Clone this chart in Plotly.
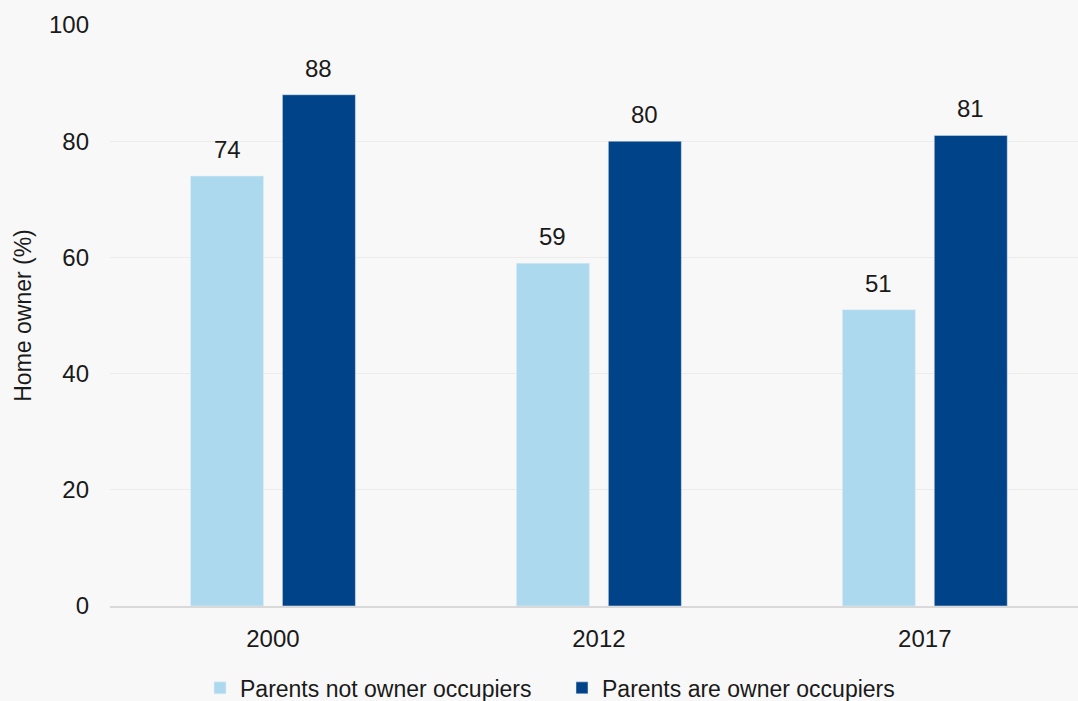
import plotly.graph_objects as go

years = ["2000", "2012", "2017"]
not_owner = [74, 59, 51]
owner = [88, 80, 81]
series_names = ["Parents not owner occupiers", "Parents are owner occupiers"]
y_ticks = [0, 20, 40, 60, 80, 100]

LIGHT = "#add9ef"
DARK = "#004388"
BG = "#f8f8f8"
FONT = "Liberation Sans"
TXT = "#1a1a1a"

BAR_W = 0.224
OFFSETS = [-0.253, 0.029]

fig = go.Figure()
for vals, name, color, off in zip([not_owner, owner], series_names, [LIGHT, DARK], OFFSETS):
    fig.add_trace(go.Bar(
        x=years, y=vals, name=name, marker_color=color,
        width=BAR_W, offset=off, hoverinfo="x+y",
    ))
    for i, v in enumerate(vals):
        fig.add_annotation(
            x=i + off + BAR_W / 2, y=v, xref="x", yref="y", text=str(v), showarrow=False,
            yshift=11, yanchor="bottom",
            font=dict(size=24, color=TXT, family=FONT),
        )

fig.update_layout(
    width=1078, height=701,
    barmode="overlay",
    paper_bgcolor=BG, plot_bgcolor=BG,
    margin=dict(l=110, r=0, t=25, b=95, autoexpand=False),
    font=dict(family=FONT, size=24, color=TXT),
    showlegend=True,
    legend=dict(orientation="h", xref="paper", x=(200 - 110) / 968, xanchor="left",
                yref="paper", y=-0.141, yanchor="middle",
                font=dict(size=23), itemwidth=30, entrywidth=317, traceorder="normal",
                bgcolor="rgba(0,0,0,0)"),
    xaxis=dict(type="category", range=[-0.5, 2.47], showgrid=False,
               showline=True, linecolor="#d9d9d9", linewidth=2,
               ticks="", tickfont=dict(size=24), ticklabelstandoff=10),
    yaxis=dict(range=[0, 100], tickvals=y_ticks, showgrid=True,
               gridcolor="#ececec", gridwidth=1, zeroline=False,
               ticks="", tickfont=dict(size=24), ticklabelstandoff=20,
               title=dict(text="Home owner (%)", font=dict(size=23), standoff=10)),
)

fig.write_html("out.html")
